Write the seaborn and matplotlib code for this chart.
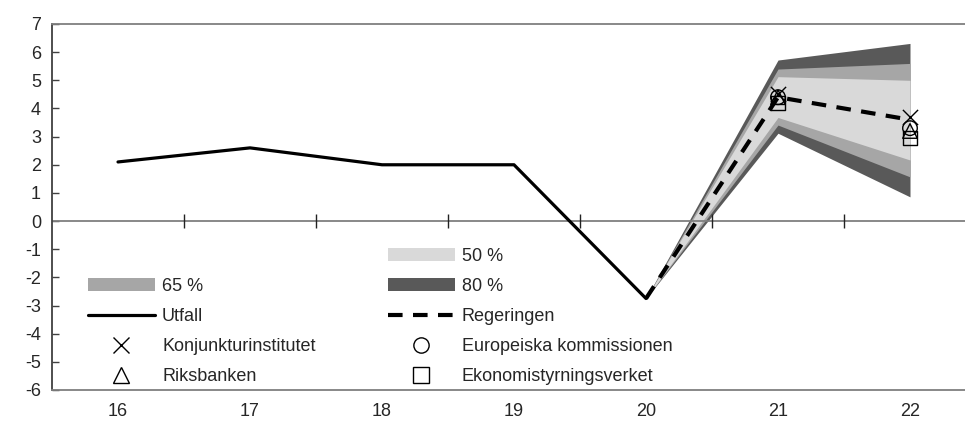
import matplotlib
matplotlib.use("Agg")
import matplotlib.pyplot as plt
import seaborn as sns
import numpy as np
import pandas as pd
from matplotlib.lines import Line2D
from matplotlib.patches import Patch

# ---- data ----
years = [16, 17, 18, 19, 20]
utfall = [2.1, 2.6, 2.0, 2.0, -2.75]

reg_years = [20, 21, 22]
regeringen = [-2.75, 4.4, 3.6]

fan_years = [20, 21, 22]
p80_lo = [-2.75, 3.12, 0.86]
p80_hi = [-2.75, 5.72, 6.31]
p65_lo = [-2.75, 3.41, 1.57]
p65_hi = [-2.75, 5.40, 5.60]
p50_lo = [-2.75, 3.68, 2.17]
p50_hi = [-2.75, 5.13, 5.00]

fc_years = [21, 22]
konj = [4.5, 3.7]
eu = [4.4, 3.3]
riks = [4.4, 3.2]
esv = [4.2, 2.95]

xticks = [16, 17, 18, 19, 20, 21, 22]
yticks = list(range(-6, 8))

# ---- styling ----
sns.set_style("white")
plt.rcParams['font.family'] = ['Liberation Sans', 'DejaVu Sans']
plt.rcParams['axes.unicode_minus'] = False

W, H = 965, 421
fig = plt.figure(figsize=(W / 100, H / 100), dpi=100)
ax = fig.add_axes([52 / W, (H - 390) / H, 1 - 52 / W, (390 - 24) / H])

c50, c65, c80 = "#d9d9d9", "#a6a6a6", "#595959"
ax.fill_between(fan_years, p80_lo, p80_hi, color=c80, lw=0, zorder=1)
ax.fill_between(fan_years, p65_lo, p65_hi, color=c65, lw=0, zorder=1)
ax.fill_between(fan_years, p50_lo, p50_hi, color=c50, lw=0, zorder=1)

df_u = pd.DataFrame({"x": years, "y": utfall})
sns.lineplot(data=df_u, x="x", y="y", ax=ax, color="black", lw=2.3, zorder=3)
df_r = pd.DataFrame({"x": reg_years, "y": regeringen})
sns.lineplot(data=df_r, x="x", y="y", ax=ax, color="black", lw=3, zorder=3,
             dashes=False, linestyle=(0, (3.5, 2.5)))

mk = dict(s=110, facecolors="none", edgecolors="black", linewidths=1.0, zorder=4)
ax.scatter(fc_years, konj, marker="x", s=120, color="black", linewidths=1.0, zorder=4)
ax.scatter(fc_years, eu, marker="o", **mk)
ax.scatter(fc_years, riks, marker="^", **mk)
ax.scatter(fc_years, esv, marker="s", **mk)

# axes
ax.set_xlim(15.5, 15.5 + (W - 52) / 132.0)
ax.set_ylim(-6, 7)
ax.set_xticks(xticks)
ax.set_yticks(yticks)
ax.set_xlabel("")
ax.set_ylabel("")
ax.tick_params(axis="x", length=0, labelsize=13, pad=9)
ax.tick_params(axis="y", direction="in", length=5, width=1, color="#404040",
               labelsize=13, pad=8, left=True)
for s in ["top", "bottom", "left"]:
    ax.spines[s].set_color("#7f7f7f")
    ax.spines[s].set_linewidth(1.3)
ax.spines["left"].set_color("#404040")
ax.spines["right"].set_visible(False)

ax.axhline(0, color="#7f7f7f", lw=1.3, zorder=2)
bounds = np.array(xticks) + 0.5
ax.plot(bounds, np.zeros_like(bounds), ls="none", marker="|", ms=9.5,
        mew=1.0, color="#222222", zorder=2)

# legend
handles = [
    Patch(facecolor="none", edgecolor="none"),
    Patch(facecolor=c65, edgecolor="none"),
    Line2D([], [], color="black", lw=2.3),
    Line2D([], [], ls="none", marker="x", ms=11, mew=1.0, color="black"),
    Line2D([], [], ls="none", marker="^", ms=11, mew=1.0, mfc="none", mec="black"),
    Patch(facecolor=c50, edgecolor="none"),
    Patch(facecolor=c80, edgecolor="none"),
    Line2D([], [], color="black", lw=3, ls=(0, (3.5, 2.5))),
    Line2D([], [], ls="none", marker="o", ms=11, mew=1.0, mfc="none", mec="black"),
    Line2D([], [], ls="none", marker="s", ms=11, mew=1.0, mfc="none", mec="black"),
]
labels = ["", "65 %", "Utfall", "Konjunkturinstitutet", "Riksbanken",
          "50 %", "80 %", "Regeringen", "Europeiska kommissionen",
          "Ekonomistyrningsverket"]
leg = fig.legend(handles, labels, ncol=2, loc="upper left",
                 bbox_to_anchor=(88 / W, 1 - 248 / H),
                 frameon=False, borderpad=0, borderaxespad=0,
                 handlelength=3.7, handleheight=0.75, handletextpad=0.4,
                 columnspacing=4.0, labelspacing=0.72, numpoints=1,
                 prop={"family": ["Liberation Sans"], "size": 13})

fig.savefig("out.png", dpi=100)
